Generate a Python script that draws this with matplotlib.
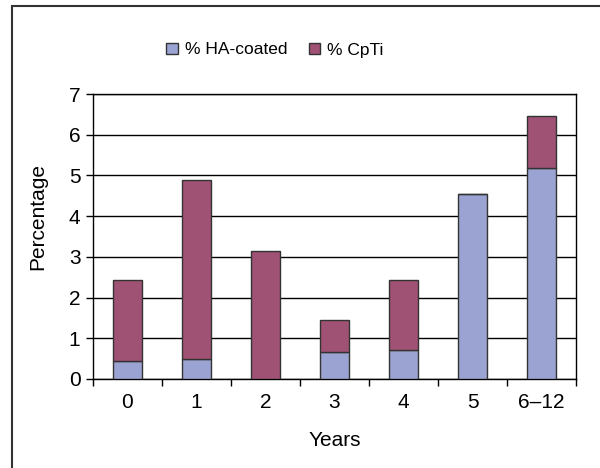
import numpy as np
import matplotlib
matplotlib.use("Agg")
import matplotlib.pyplot as plt
from matplotlib.patches import Rectangle

plt.rcParams['font.family'] = ['Liberation Sans', 'DejaVu Sans']

years = ["0", "1", "2", "3", "4", "5", "6\u201312"]
ha_coated = [0.43, 0.50, 0.0, 0.67, 0.71, 4.55, 5.19]
cpti = [2.00, 4.38, 3.14, 0.78, 1.72, 0.0, 1.26]

ha_col = "#9BA3D3"
cp_col = "#A05274"

fig = plt.figure(figsize=(6, 4.68), dpi=100)
ax = fig.add_axes([93/600, 1 - 379/468, (576-93)/600, (379-94)/468])

x = np.arange(len(years))
ax.bar(x, ha_coated, width=0.41, color=ha_col, edgecolor="#333333", linewidth=1, label="% HA-coated", zorder=3)
ax.bar(x, cpti, width=0.41, bottom=ha_coated, color=cp_col, edgecolor="#333333", linewidth=1, label="% CpTi", zorder=3)

ax.set_xlim(-0.5, len(years) - 0.5)
ax.set_ylim(0, 7)
ax.set_yticks(range(8))
ax.yaxis.grid(True, color="black", linewidth=1)
ax.set_axisbelow(True)

ax.set_xticks(x)
ax.set_xticklabels(years)
ax.set_xticks(np.arange(-0.5, len(years)), minor=True)
ax.tick_params(axis="x", which="major", length=0, pad=10, labelsize=15)
ax.tick_params(axis="x", which="minor", length=5, width=1)
ax.tick_params(axis="y", length=5, width=1, labelsize=15, pad=4)
for s in ax.spines.values():
    s.set_linewidth(1)

ax.set_xlabel("Years", fontsize=15, va="center")
ax.xaxis.set_label_coords(0.5, -(440 - 379) / 285)
ax.set_ylabel("Percentage", fontsize=15, va="center")
ax.yaxis.set_label_coords((38 - 93) / 483, 1 - (216 - 94) / 285)

fig.legend(loc="center", bbox_to_anchor=(275/600, 1 - 50/468), ncol=2, frameon=False,
           fontsize=12.5, handlelength=0.65, handleheight=0.65, columnspacing=1.25, handletextpad=0.4)

fig.patches.append(Rectangle((12/600, -0.1), 1.2, 1 - 6/468 + 0.1, transform=fig.transFigure,
                             fill=False, edgecolor="#333333", linewidth=1.5))

fig.savefig("out.png", dpi=100)
